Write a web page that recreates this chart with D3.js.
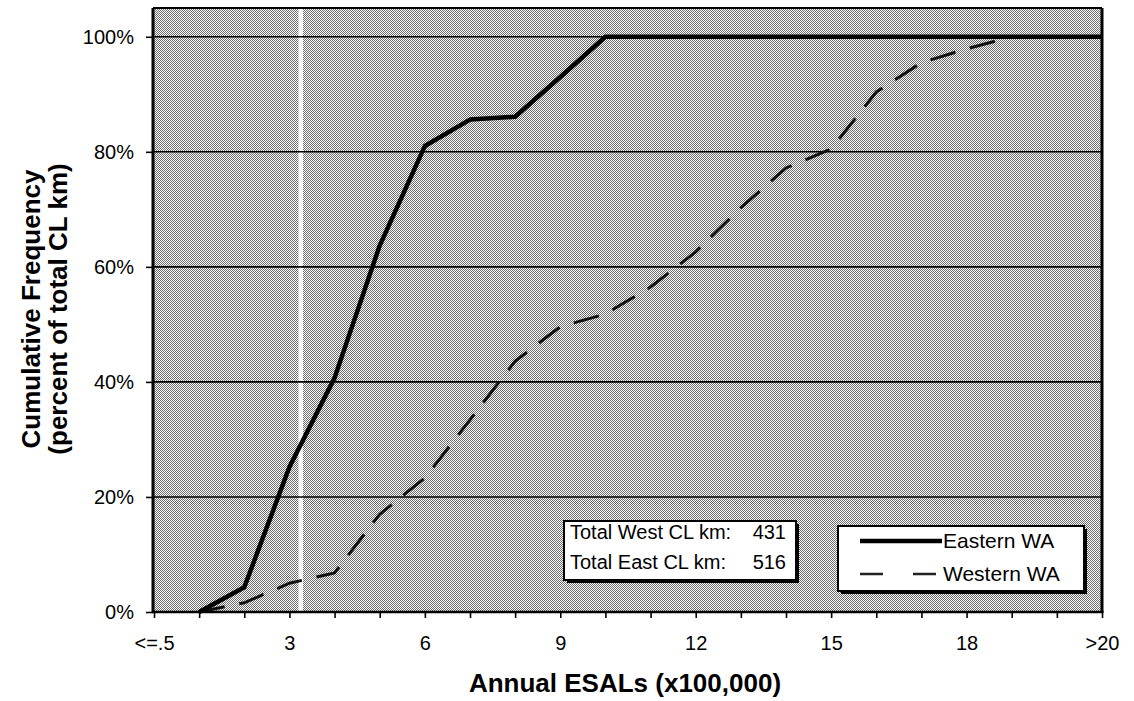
<!DOCTYPE html>
<html><head><meta charset="utf-8">
<script src="https://cdn.jsdelivr.net/npm/d3@7/dist/d3.min.js"></script>
<style>
body{margin:0;background:#fff}
svg{display:block}
text{font-family:"Liberation Sans",Arial,sans-serif;fill:#000}
</style>
</head><body>
<svg id="chart" width="1134" height="701"></svg>
<script>
// ---- data ----
const categories = ["<=.5","1","2","3","4","5","6","7","8","9","10","11","12","13","14","15","16","17","18","19","20",">20"];
const tickLabels = ["<=.5","3","6","9","12","15","18",">20"];
const easternWA = [null,0,4.3,25.2,40.7,63.7,81,85.6,86.1,93,100,100,100,100,100,100,100,100,100,100,100,100];
const westernWA = [null,0,1.6,5,6.8,17,23.3,33.4,43.6,49.6,51.8,56.5,62.6,70.3,77.2,80.5,90.4,95.5,97.9,100,100,100];
const yTicks = [0,20,40,60,80,100];
const seriesNames = ["Eastern WA","Western WA"];
const boxLabels = ["Total West CL km:","Total East CL km:"];
const boxValues = ["431","516"];

// ---- layout ----
const svg = d3.select("#chart");
const L = 153, R = 1102, T = 8, B = 612;
const x = d3.scalePoint().domain(categories).range([154, 1102]);
const y = d3.scaleLinear().domain([0, 1.05]).range([B, T]);

const defs = svg.append("defs");
const pat = defs.append("pattern").attr("id","dither").attr("width",2).attr("height",2)
  .attr("patternUnits","userSpaceOnUse");
pat.append("rect").attr("width",2).attr("height",2).attr("fill","#fafafa").attr("shape-rendering","crispEdges");
pat.append("rect").attr("x",0).attr("y",0).attr("width",1).attr("height",1).attr("fill","#6e6e6e").attr("shape-rendering","crispEdges");
pat.append("rect").attr("x",1).attr("y",1).attr("width",1).attr("height",1).attr("fill","#6e6e6e").attr("shape-rendering","crispEdges");

// plot background
svg.append("rect").attr("x",L).attr("y",T).attr("width",R-L).attr("height",B-T)
  .attr("fill","url(#dither)").attr("shape-rendering","crispEdges");

// light vertical streak in the scan
svg.append("rect").attr("x", x("3")+9).attr("y",T).attr("width",4.5).attr("height",B-T)
  .attr("fill","#fff").attr("opacity",0.9);

// gridlines
svg.append("g").selectAll("line").data(yTicks.filter(v=>v>0)).join("line")
  .attr("x1",L).attr("x2",R).attr("y1",d=>y(d/100)).attr("y2",d=>y(d/100))
  .attr("stroke","#000").attr("stroke-width",1.6);

// series
const line = d3.line().defined(d=>d[1]!==null).x(d=>x(d[0])).y(d=>y(d[1]/100));
svg.append("path").datum(categories.map((c,i)=>[c,westernWA[i]]))
  .attr("d",line).attr("fill","none").attr("stroke","#111").attr("stroke-width",3)
  .attr("stroke-dasharray","26,15");
svg.append("path").datum(categories.map((c,i)=>[c,easternWA[i]]))
  .attr("d",line).attr("fill","none").attr("stroke","#000").attr("stroke-width",4.5)
  .attr("stroke-linejoin","round");

// text box
const tb = {x:564, y:521, w:232, h:59};
svg.append("rect").attr("x",tb.x+3).attr("y",tb.y+3).attr("width",tb.w).attr("height",tb.h).attr("fill","#000");
svg.append("rect").attr("x",tb.x).attr("y",tb.y).attr("width",tb.w).attr("height",tb.h)
  .attr("fill","#fff").attr("stroke","#000").attr("stroke-width",2);
boxLabels.forEach((t,i)=>{
  svg.append("text").attr("x",tb.x+6).attr("y",539+i*30).attr("font-size",20).text(t);
  svg.append("text").attr("x",tb.x+222).attr("y",539+i*30).attr("font-size",20)
    .attr("text-anchor","end").text(boxValues[i]);
});

// legend
const lg = {x:838, y:526, w:246, h:65};
svg.append("rect").attr("x",lg.x+3).attr("y",lg.y+3).attr("width",lg.w).attr("height",lg.h).attr("fill","#000");
svg.append("rect").attr("x",lg.x).attr("y",lg.y).attr("width",lg.w).attr("height",lg.h)
  .attr("fill","#fff").attr("stroke","#000").attr("stroke-width",2);
svg.append("line").attr("x1",860).attr("x2",942).attr("y1",541).attr("y2",541)
  .attr("stroke","#000").attr("stroke-width",4.5);
svg.append("line").attr("x1",860).attr("x2",942).attr("y1",574).attr("y2",574)
  .attr("stroke","#222").attr("stroke-width",2.5).attr("stroke-dasharray","23,30");
seriesNames.forEach((n,i)=>{
  svg.append("text").attr("x",943).attr("y",548+i*33).attr("font-size",21).text(n);
});

// axes
const xAxis = d3.axisBottom(x).tickValues(categories).tickSize(6).tickPadding(18)
  .tickFormat(d=>tickLabels.includes(d)?d:"");
const gx = svg.append("g").attr("transform",`translate(0,${B})`).call(xAxis);
gx.select(".domain").remove();
gx.selectAll(".tick line").attr("stroke","#000").attr("stroke-width",1.6);
gx.selectAll("text").attr("font-size",20).attr("font-family",'"Liberation Sans",Arial,sans-serif');

const yAxis = d3.axisLeft(y).tickValues(yTicks.map(v=>v/100)).tickSize(7).tickPadding(12)
  .tickFormat(d=>Math.round(d*100)+"%");
const gy = svg.append("g").attr("transform",`translate(${L},0)`).call(yAxis);
gy.select(".domain").remove();
gy.selectAll(".tick line").attr("stroke","#000").attr("stroke-width",1.6);
gy.selectAll("text").attr("font-size",20).attr("font-family",'"Liberation Sans",Arial,sans-serif');

// plot border
svg.append("line").attr("x1",L-1).attr("x2",R+1.5).attr("y1",B).attr("y2",B).attr("stroke","#000").attr("stroke-width",2.5);
svg.append("line").attr("x1",L).attr("x2",L).attr("y1",T).attr("y2",B).attr("stroke","#000").attr("stroke-width",3);
svg.append("line").attr("x1",R).attr("x2",R).attr("y1",T).attr("y2",B).attr("stroke","#000").attr("stroke-width",3);
svg.append("line").attr("x1",L).attr("x2",R).attr("y1",T).attr("y2",T).attr("stroke","#000").attr("stroke-width",2);

// axis titles
svg.append("text").attr("x",625).attr("y",692).attr("text-anchor","middle")
  .attr("font-size",26).attr("font-weight","bold").text("Annual ESALs (x100,000)");
svg.append("text").attr("transform","translate(40,309) rotate(-90)").attr("text-anchor","middle")
  .attr("font-size",26).attr("font-weight","bold").text("Cumulative Frequency");
svg.append("text").attr("transform","translate(67,309) rotate(-90)").attr("text-anchor","middle")
  .attr("font-size",26).attr("font-weight","bold").text("(percent of total CL km)");
</script>
</body></html>
